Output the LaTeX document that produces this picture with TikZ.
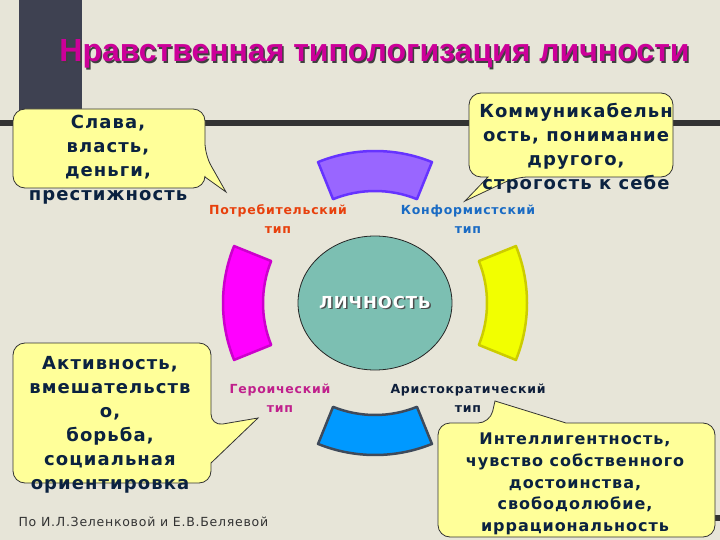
\documentclass[tikz,border=0pt]{standalone}
\usepackage{fontspec}
\setmainfont{DejaVu Sans}[LetterSpace=6]
\newfontfamily\titlefont{Liberation Sans}
\usetikzlibrary{shapes.geometric}

\definecolor{paper}{HTML}{E7E5D8}
\definecolor{slatebar}{HTML}{3E4151}
\definecolor{titlepink}{HTML}{CC0099}
\definecolor{bubblefill}{HTML}{FFFF99}
\definecolor{bubbleink}{HTML}{0B2240}
\definecolor{corefill}{HTML}{7CBFB2}
\definecolor{segpurple}{HTML}{9966FF}
\definecolor{segpurpleb}{HTML}{6633FF}
\definecolor{segmagenta}{HTML}{FF00FF}
\definecolor{segmagentab}{HTML}{CC00CC}
\definecolor{segyellow}{HTML}{F2FF00}
\definecolor{segyellowb}{HTML}{CCCC00}
\definecolor{segblue}{HTML}{0099FF}
\definecolor{segblueb}{HTML}{3F4A5A}
\definecolor{typered}{HTML}{E8400C}
\definecolor{typeblue}{HTML}{1A6BC4}
\definecolor{typepink}{HTML}{C0208C}
\definecolor{typenavy}{HTML}{0E1E3A}

% text with a dark copy shifted down-right
\newcommand{\shadowed}[3]{\rlap{\kern1.5pt\raisebox{-1.5pt}{\color{#2}#3}}{\color{#1}#3}}

\tikzset{
  bubble/.style={fill=bubblefill, draw=black!80, line width=0.8pt, rounded corners=12pt},
  bubbletext/.style={align=center, text=bubbleink, font=\bfseries\fontsize{18}{24}\selectfont},
  typelabel/.style={align=center, font=\bfseries\fontsize{12.5}{19}\selectfont},
}

\begin{document}
\begin{tikzpicture}[x=1pt,y=-1pt]
	\fill [paper] (0,0) rectangle (720,540);
	\useasboundingbox (0,0) rectangle (720,540);
	% dark bars of the slide
	\fill [slatebar] (19,0) rectangle (82,110);
	\fill [black!80] (0,120) rectangle (720,126);
	\fill [black!80] (712,515) rectangle (720,521);
	% title
	\node (title) at (374.5,55) {\titlefont\bfseries\fontsize{32}{36}\selectfont\shadowed{titlepink}{black!75}{Нравственная типологизация личности}};
	% ring of four types
	\foreach \a/\f/\b in {270/segpurple/segpurpleb, 180/segmagenta/segmagentab, 0/segyellow/segyellowb, 90/segblue/segblueb}
	\draw [fill=\f, draw=\b, line width=2.5pt, line join=round, shift={(375,303)}]
		(\a-22:152) arc [start angle=\a-22, end angle=\a+22, radius=152]
		-- (\a+22:112) arc [start angle=\a+22, end angle=\a-22, radius=112] -- cycle;
	\node (core) [ellipse, fill=corefill, draw=black!85, line width=0.8pt, minimum width=154pt, minimum height=134pt] at (375,303) {};
	\node (corelabel) at (core.center) {\bfseries\fontsize{16.5}{18}\selectfont\shadowed{white}{black!70}{ЛИЧНОСТЬ}};
	\node (consumer) [typelabel, text=typered] at (278,219.5) {Потребительский\\тип};
	\node (conformist) [typelabel, text=typeblue] at (468,219.5) {Конформистский\\тип};
	\node (heroic) [typelabel, text=typepink] at (280,398) {Героический\\тип};
	\node (aristocrat) [typelabel, text=typenavy] at (468,398) {Аристократический\\тип};
	% callouts
	\draw [bubble] (13,150) -- (13,109) -- (205,109) -- (205,155) [sharp corners] -- (226,192) -- (205,177) [rounded corners=12pt] -- (205,188) -- (13,188) -- cycle;
	\node (fame) [bubbletext] at (108,160) {Слава,\\власть,\\деньги,\\престижность};
	\draw [bubble] (469,135) -- (469,93) -- (673,93) -- (673,177) -- (516,177) [sharp corners] -- (465,201) -- (488,177) [rounded corners=12pt] -- (469,177) -- cycle;
	\node (sociable) [bubbletext] at (576,148) {Коммуникабельн\\ость, понимание\\другого,\\строгость к себе};
	\draw [bubble] (13,400) -- (13,343) -- (211,343) -- (211,426) [sharp corners] -- (258,418) -- (211,463) [rounded corners=12pt] -- (211,483) -- (13,483) -- cycle;
	\node (activity) [bubbletext] at (110,424.5) {Активность,\\вмешательств\\о,\\борьба,\\социальная\\ориентировка};
	\draw [bubble] (438,480) -- (438,423) -- (490,423) [sharp corners] -- (495,401) -- (566,423) [rounded corners=12pt] -- (715,423) -- (715,537) -- (438,537) -- cycle;
	\node (intellect) [bubbletext, font=\bfseries\fontsize{16}{21.7}\selectfont] at (575,484) {Интеллигентность,\\чувство собственного\\достоинства,\\свободолюбие,\\иррациональность};
	% source
	\node (source) [anchor=west, text=black!80, font=\fontsize{12.5}{14}\selectfont] at (15,522) {По И.Л.Зеленковой и Е.В.Беляевой};
\end{tikzpicture}
\end{document}
